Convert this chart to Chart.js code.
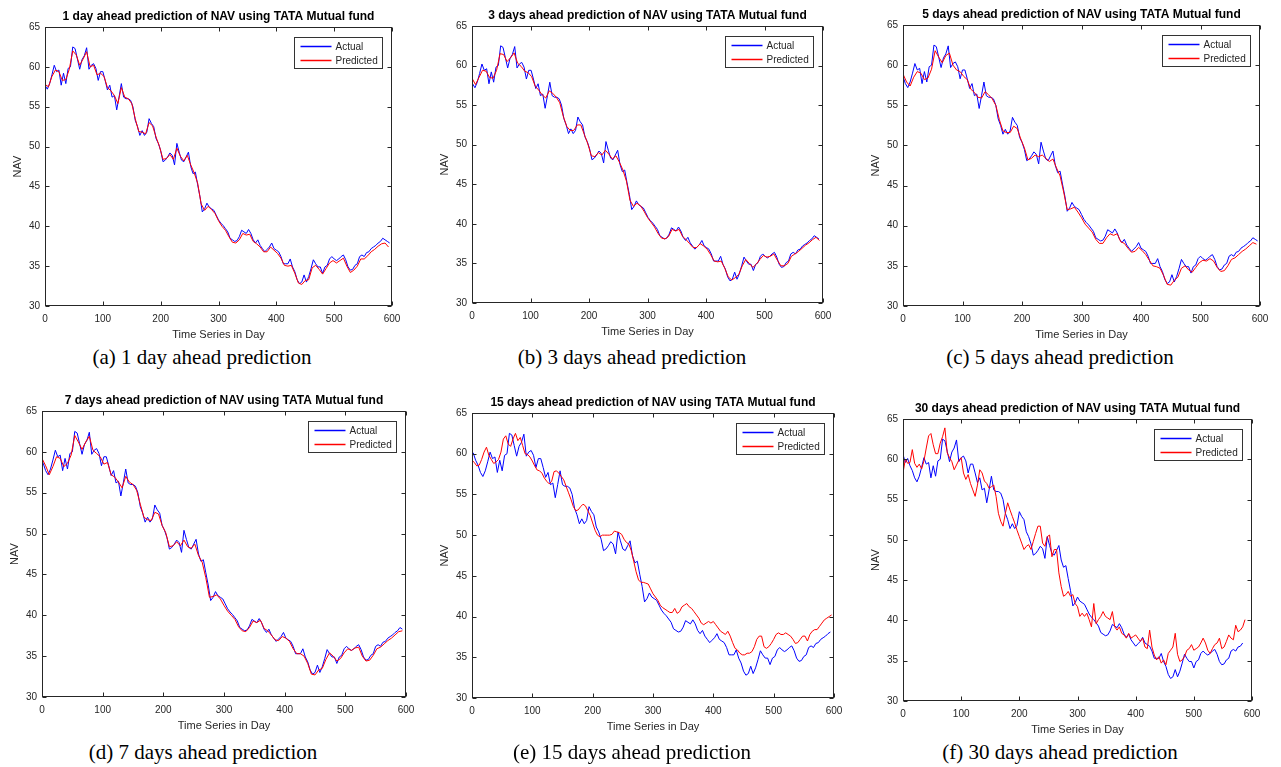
<!DOCTYPE html>
<html>
<head>
<meta charset="utf-8">
<script src="https://cdn.jsdelivr.net/npm/chart.js@4.4.0/dist/chart.umd.min.js"></script>
<style>
  body { margin: 0; background: #fff; width: 1281px; height: 767px; position: relative; overflow: hidden; }
  canvas { position: absolute; }
  .cap { position: absolute; font-family: "Liberation Serif", "Times New Roman", serif; font-size: 21px; color: #000;
         white-space: nowrap; transform: translate(-50%, -50%); }
</style>
</head>
<body>
<script>
// actual NAV, one value every 4 days, first value is day -20
const navStart = -20;
const navStep = 4;
const nav = [
  60.6, 59.6, 60.1, 59.2, 58.6,
  57.7, 57.2, 57.9, 59.0, 60.2, 59.4, 59.6, 57.7, 59.2, 57.9, 59.8, 60.0, 62.5, 62.3, 61.0, 59.7, 60.9, 61.4, 62.4, 59.7,
  60.2, 60.4, 59.8, 58.3, 59.4, 59.4, 58.3, 57.1, 57.7, 56.2, 56.4, 54.6, 56.2, 57.9, 56.2, 56.0, 56.0, 55.8, 55.0, 53.3,
  52.5, 51.4, 52.0, 51.4, 51.8, 53.5, 52.9, 52.5, 51.0, 50.4, 49.5, 48.1, 48.3, 48.7, 49.2, 48.9, 47.7, 50.4, 49.3, 48.3,
  48.1, 48.7, 49.3, 47.5, 46.6, 46.8, 45.2, 43.7, 41.8, 42.2, 42.9, 42.4, 42.2, 42.0, 41.4, 40.8, 40.4, 40.1, 39.7, 39.3,
  38.5, 38.3, 38.1, 38.2, 38.7, 39.5, 39.3, 39.1, 39.6, 39.1, 38.3, 37.9, 38.3, 37.6, 37.2, 36.8, 37.1, 37.4, 37.9, 37.2,
  37.0, 36.8, 36.2, 35.3, 35.3, 35.3, 35.9, 34.9, 34.3, 33.3, 32.8, 33.0, 33.9, 33.0, 33.7, 34.7, 35.8, 35.3, 34.9, 34.9,
  34.1, 34.9, 35.1, 35.9, 36.2, 35.9, 35.7, 35.9, 36.2, 36.4, 35.8, 34.9, 34.5, 34.6, 35.1, 35.3, 36.2, 36.4, 36.2, 36.7,
  36.8, 37.2, 37.4, 37.6, 37.9, 38.1, 38.5, 38.3, 38.1, 37.9
];

// predicted NAV, short horizons, one value every 6 days from day 0
const predA = [
  57.8, 57.5, 58.8, 59.6, 59.4, 58.3, 58.4, 59.7, 62.0, 61.5, 60.2, 61.0, 61.9, 60.0, 60.2, 59.0, 59.2, 58.8, 57.4, 57.0,
  56.4, 55.4, 57.4, 56.2, 56.0, 55.4, 53.5, 51.9, 51.8, 51.6, 53.0, 52.6, 51.2, 50.0, 48.4, 48.5, 49.0, 48.4, 49.8, 48.8,
  48.2, 48.9, 47.7, 46.7, 45.4, 42.8, 42.0, 42.5, 42.1, 41.6, 40.7, 40.0, 39.5, 38.7, 38.0, 37.9, 38.3, 39.1, 38.9, 39.0,
  38.1, 37.8, 37.4, 36.8, 36.8, 37.4, 37.0, 36.6, 36.0, 35.1, 35.0, 35.1, 34.1, 32.9, 32.7, 33.2, 33.3, 34.8, 35.1, 34.6,
  34.0, 34.7, 35.4, 35.7, 35.4, 35.7, 36.0, 35.0, 34.2, 34.5, 35.0, 35.9, 35.9, 36.3, 36.8, 37.1, 37.5, 37.8, 37.9, 37.4
];
const predB = [
  58.4, 57.6, 58.5, 59.4, 59.3, 58.5, 58.4, 59.4, 61.5, 61.4, 60.5, 61.0, 61.6, 60.3, 59.9, 59.3, 59.1, 58.6, 57.4, 56.9,
  56.3, 55.9, 56.8, 56.5, 56.0, 55.3, 53.6, 52.3, 51.8, 51.8, 52.5, 52.5, 51.3, 50.1, 48.6, 48.5, 49.0, 48.7, 49.3, 48.8,
  48.2, 48.6, 47.8, 46.8, 45.4, 43.0, 42.2, 42.6, 42.3, 41.6, 40.8, 40.2, 39.6, 38.8, 38.2, 38.1, 38.4, 39.3, 39.1, 39.3,
  38.4, 38.0, 37.5, 37.0, 37.0, 37.5, 37.2, 36.8, 36.1, 35.3, 35.2, 35.3, 34.4, 33.3, 32.9, 33.2, 33.6, 34.7, 35.5, 35.0,
  34.5, 34.9, 35.5, 36.0, 35.8, 35.9, 36.2, 35.4, 34.7, 34.7, 35.0, 35.9, 36.2, 36.5, 36.9, 37.3, 37.6, 38.0, 38.3, 37.9
];
const predC = [
  58.9, 57.9, 57.4, 58.5, 59.2, 59.0, 58.2, 58.4, 59.5, 61.8, 61.0, 60.3, 61.2, 61.5, 60.0, 59.4, 59.2, 58.6, 58.2, 57.0,
  56.6, 56.0, 55.9, 56.7, 56.3, 55.8, 55.0, 53.2, 51.8, 51.6, 51.6, 52.4, 52.1, 50.8, 49.7, 48.2, 48.4, 48.8, 48.6, 48.8,
  48.4, 48.0, 48.3, 47.2, 46.2, 44.2, 42.0, 42.1, 42.3, 41.7, 41.0, 40.2, 39.7, 39.2, 38.3, 37.8, 37.8, 38.5, 39.0, 38.8,
  39.0, 38.0, 37.8, 37.2, 36.7, 36.8, 37.3, 36.9, 36.4, 35.7, 35.0, 34.9, 34.7, 33.8, 32.7, 32.6, 33.2, 33.6, 34.7, 35.0,
  34.5, 34.2, 34.8, 35.4, 35.7, 35.6, 35.9, 35.6, 34.8, 34.3, 34.4, 35.0, 35.8, 36.0, 36.4, 36.8, 37.1, 37.5, 37.9, 37.7
];
const predD = [
  59.2, 58.3, 57.2, 58.2, 59.4, 59.2, 58.2, 58.6, 59.6, 62.0, 61.2, 60.3, 61.2, 61.9, 60.2, 59.8, 59.4, 58.5, 58.7, 57.2,
  56.9, 56.3, 55.6, 57.0, 56.3, 56.0, 55.3, 53.6, 52.0, 51.7, 51.6, 52.6, 52.4, 51.0, 50.1, 48.4, 48.5, 49.0, 48.5, 49.2,
  48.4, 48.2, 48.7, 47.3, 46.5, 44.6, 42.2, 42.3, 42.5, 42.0, 41.2, 40.5, 40.0, 39.5, 38.6, 38.1, 38.0, 38.5, 39.3, 39.1,
  39.4, 38.4, 38.1, 37.6, 37.0, 36.9, 37.4, 37.2, 36.8, 35.9, 35.3, 35.3, 35.0, 34.1, 32.8, 32.7, 33.3, 33.5, 34.6, 35.4,
  35.0, 34.4, 34.7, 35.4, 35.9, 35.7, 36.0, 36.1, 35.0, 34.4, 34.5, 35.1, 35.9, 36.1, 36.5, 36.9, 37.2, 37.6, 38.0, 38.1
];

// predicted NAV, long horizons, one value every 4 days from day 0
const predE = [
  59.2, 58.9, 58.5, 58.6, 59.3, 60.2, 60.8, 59.8, 59.3, 58.8, 59.0, 59.3, 60.2, 61.8, 62.2, 61.2, 60.9, 61.8, 62.5, 61.6,
  62.0, 61.0, 60.0, 59.9, 59.6, 59.1, 58.5, 58.0, 57.9, 57.6, 57.0, 56.6, 56.3, 56.6, 57.8, 57.9, 57.6, 57.2, 56.8, 56.0,
  55.2, 54.4, 53.5, 53.0, 53.1, 53.5, 53.8, 53.6, 53.0, 52.4, 51.5, 50.6, 50.0, 49.8, 50.0, 50.0, 50.0, 50.0, 50.1, 50.5,
  50.4, 50.3, 50.1, 49.5, 49.1, 48.9, 48.1, 46.8, 45.5, 44.5, 44.2, 44.2, 44.1, 44.0, 43.4, 42.8, 42.4, 42.0, 41.4, 41.1,
  40.9, 40.7, 40.5, 40.5, 41.0, 40.4, 40.6, 41.2, 41.4, 41.6, 41.2, 41.0, 40.6, 40.2, 39.8, 39.2, 39.0, 39.2, 39.4, 39.2,
  39.4, 39.0, 38.6, 38.2, 38.0, 37.8, 38.2, 37.6, 36.8, 36.1, 35.9, 35.5, 35.3, 35.3, 35.5, 35.5, 35.7, 36.3, 37.2, 37.6,
  37.6, 36.3, 36.1, 36.3, 36.7, 37.2, 37.8, 38.0, 37.8, 37.8, 38.0, 37.8, 37.6, 37.2, 36.7, 36.8, 37.2, 37.6, 37.6, 37.0,
  37.8, 38.2, 38.4, 38.4, 38.8, 39.2, 39.6, 39.8, 40.0, 40.2
];
const predF = [
  58.3, 60.0, 59.5, 59.6, 61.2, 59.5, 59.0, 59.4, 58.8, 59.8, 61.4, 62.9, 63.2, 61.8, 60.7, 60.7, 62.0, 62.8, 63.9, 60.8,
  60.2, 59.7, 58.7, 59.3, 59.9, 60.2, 58.3, 57.5, 58.1, 57.0, 56.2, 55.4, 56.8, 58.7, 58.3, 57.3, 57.0, 56.4, 56.6, 56.8,
  55.4, 53.3, 52.3, 51.7, 53.3, 54.6, 53.7, 52.9, 52.1, 51.2, 50.4, 49.6, 48.8, 49.2, 49.4, 48.8, 49.8, 50.8, 51.7, 51.7,
  49.6, 49.2, 50.4, 50.6, 47.9, 48.8, 48.8, 45.9, 44.2, 43.0, 43.2, 43.6, 43.0, 43.2, 42.1, 41.7, 40.5, 40.9, 40.5, 40.9,
  40.1, 39.2, 42.1, 39.6, 40.1, 40.5, 41.1, 40.5, 40.3, 40.1, 41.1, 39.2, 38.8, 39.2, 38.4, 38.2, 37.8, 38.4, 37.8, 38.0,
  38.2, 37.8, 37.4, 37.8, 36.7, 36.5, 38.8, 36.7, 35.7, 35.1, 35.5, 34.7, 35.1, 34.5, 35.9, 36.3, 36.7, 38.4, 35.8, 34.9,
  35.1, 35.5, 36.3, 36.5, 37.0, 36.3, 36.5, 36.7, 37.2, 37.8, 37.2, 36.3, 35.9, 36.5, 37.0, 37.2, 37.8, 36.5, 36.7, 37.4,
  38.2, 37.8, 37.6, 39.4, 38.6, 38.8, 39.2, 40.1
];

const horizons = ['1 day', '3 days', '5 days', '7 days', '15 days', '30 days'];
const letters = ['a', 'b', 'c', 'd', 'e', 'f'];
const lags = [0, 1, 4, 6, 14, 20];       // how far the actual curve sits to the right
const lastDay = [596, 596, 596, 596, 596, 585];
const predicted = [predA, predB, predC, predD, predE, predF];
const predSteps = [6, 6, 6, 6, 4, 4];
const xTicks = [0, 100, 200, 300, 400, 500, 600];
const yTicks = [30, 35, 40, 45, 50, 55, 60, 65];

// plot area of each panel on the page: left, top, right, bottom
const areas = [
  [45, 27, 392, 306], [472, 26, 823, 303], [903, 25, 1260, 306],
  [42, 411, 406, 697], [472, 413, 834, 698], [903, 419, 1252, 701]
];
const captionPos = [[202, 357], [632, 357], [1060, 357], [203, 752], [632, 752], [1060, 752]];

const AXIS = '#262626';
const FONT = 'Arial, "Liberation Sans", sans-serif';
const Y_W = 40, TITLE_H = 27, X_H = 38, RIGHT_PAD = 28;

// MATLAB style box: frame, inward ticks on every side, legend in the top right corner
const boxPlugin = {
  id: 'matlabBox',
  afterDraw(chart) {
    const { ctx, chartArea: a, scales: { x, y } } = chart;
    const l = Math.round(a.left) + 0.5, r = Math.round(a.right) - 0.5;
    const t = Math.round(a.top) + 0.5, b = Math.round(a.bottom) - 0.5;
    ctx.save();
    ctx.strokeStyle = AXIS;
    ctx.lineWidth = 1;
    ctx.beginPath();
    x.ticks.forEach(tk => {
      const px = Math.round(x.getPixelForValue(tk.value)) + 0.5;
      ctx.moveTo(px, b); ctx.lineTo(px, b - 4);
      ctx.moveTo(px, t); ctx.lineTo(px, t + 4);
    });
    y.ticks.forEach(tk => {
      const py = Math.round(y.getPixelForValue(tk.value)) + 0.5;
      ctx.moveTo(l, py); ctx.lineTo(l + 4, py);
      ctx.moveTo(r, py); ctx.lineTo(r - 4, py);
    });
    ctx.stroke();
    ctx.strokeRect(l, t, r - l, b - t);

    // legend
    const w = 88, h = 31;
    const lx = Math.round(a.right - 10 - w) + 0.5, ly = Math.round(a.top + 10) + 0.5;
    ctx.fillStyle = '#fff';
    ctx.fillRect(lx, ly, w, h);
    ctx.strokeStyle = '#333';
    ctx.strokeRect(lx, ly, w, h);
    ctx.font = '10px ' + FONT;
    ctx.textBaseline = 'middle';
    ctx.textAlign = 'left';
    chart.data.datasets.forEach((ds, i) => {
      const cy = ly + 9 + i * 14;
      ctx.strokeStyle = ds.borderColor;
      ctx.lineWidth = 1.5;
      ctx.beginPath();
      ctx.moveTo(lx + 6, cy); ctx.lineTo(lx + 37, cy);
      ctx.stroke();
      ctx.fillStyle = AXIS;
      ctx.fillText(ds.label, lx + 41, cy + 0.5);
    });
    ctx.restore();
  }
};

function makePanel(i) {
  const [L, T, R, B] = areas[i];
  const canvas = document.createElement('canvas');
  const w = R - L + Y_W + RIGHT_PAD, h = B - T + TITLE_H + X_H;
  canvas.width = w; canvas.height = h;
  canvas.style.left = (L - Y_W) + 'px';
  canvas.style.top = (T - TITLE_H) + 'px';
  canvas.style.width = w + 'px';
  canvas.style.height = h + 'px';
  document.body.appendChild(canvas);

  const actualPts = [];
  nav.forEach((v, k) => {
    const day = navStart + k * navStep + lags[i];
    if (day >= -navStep && day <= lastDay[i]) actualPts.push({ x: day, y: v });
  });
  const predPts = predicted[i].map((v, k) => ({ x: k * predSteps[i], y: v }));

  new Chart(canvas, {
    type: 'line',
    data: {
      datasets: [
        { label: 'Actual', data: actualPts, borderColor: '#0000ff', borderWidth: 1, pointRadius: 0, order: 1 },
        { label: 'Predicted', data: predPts, borderColor: '#ff0000', borderWidth: 1, pointRadius: 0, order: 0 }
      ]
    },
    options: {
      responsive: false,
      animation: false,
      devicePixelRatio: 1,
      layout: { padding: { left: 0, top: 0, right: RIGHT_PAD, bottom: 0 } },
      plugins: {
        legend: { display: false },
        tooltip: { enabled: false },
        title: {
          display: true,
          fullSize: false,
          text: horizons[i] + ' ahead prediction of NAV using TATA Mutual fund',
          color: '#000',
          font: { family: FONT, size: 12, weight: 'bold', lineHeight: 1 },
          padding: { top: 10.5, bottom: 4.5 }
        }
      },
      scales: {
        x: {
          type: 'linear', min: 0, max: 600,
          afterBuildTicks: s => { s.ticks = xTicks.map(v => ({ value: v })); },
          afterFit: s => { s.height = X_H; },
          grid: { display: false, drawTicks: false },
          border: { display: false },
          ticks: { color: AXIS, padding: 7, maxRotation: 0, font: { family: FONT, size: 10 } },
          title: { display: true, text: 'Time Series in Day', color: AXIS,
                   font: { family: FONT, size: 11, lineHeight: 1 }, padding: { top: 0, bottom: 3.5 } }
        },
        y: {
          min: 30, max: 65,
          afterBuildTicks: s => { s.ticks = yTicks.map(v => ({ value: v })); },
          afterFit: s => { s.width = Y_W; },
          grid: { display: false, drawTicks: false },
          border: { display: false },
          ticks: { color: AXIS, padding: 5, font: { family: FONT, size: 10 } },
          title: { display: true, text: 'NAV', color: AXIS,
                   font: { family: FONT, size: 11, lineHeight: 1 }, padding: { top: 7.5, bottom: 0 } }
        }
      }
    },
    plugins: [boxPlugin]
  });

  const cap = document.createElement('div');
  cap.className = 'cap';
  cap.style.left = captionPos[i][0] + 'px';
  cap.style.top = captionPos[i][1] + 'px';
  cap.textContent = '(' + letters[i] + ') ' + horizons[i] + ' ahead prediction';
  document.body.appendChild(cap);
}

for (let i = 0; i < 6; i++) makePanel(i);
</script>
</body>
</html>
